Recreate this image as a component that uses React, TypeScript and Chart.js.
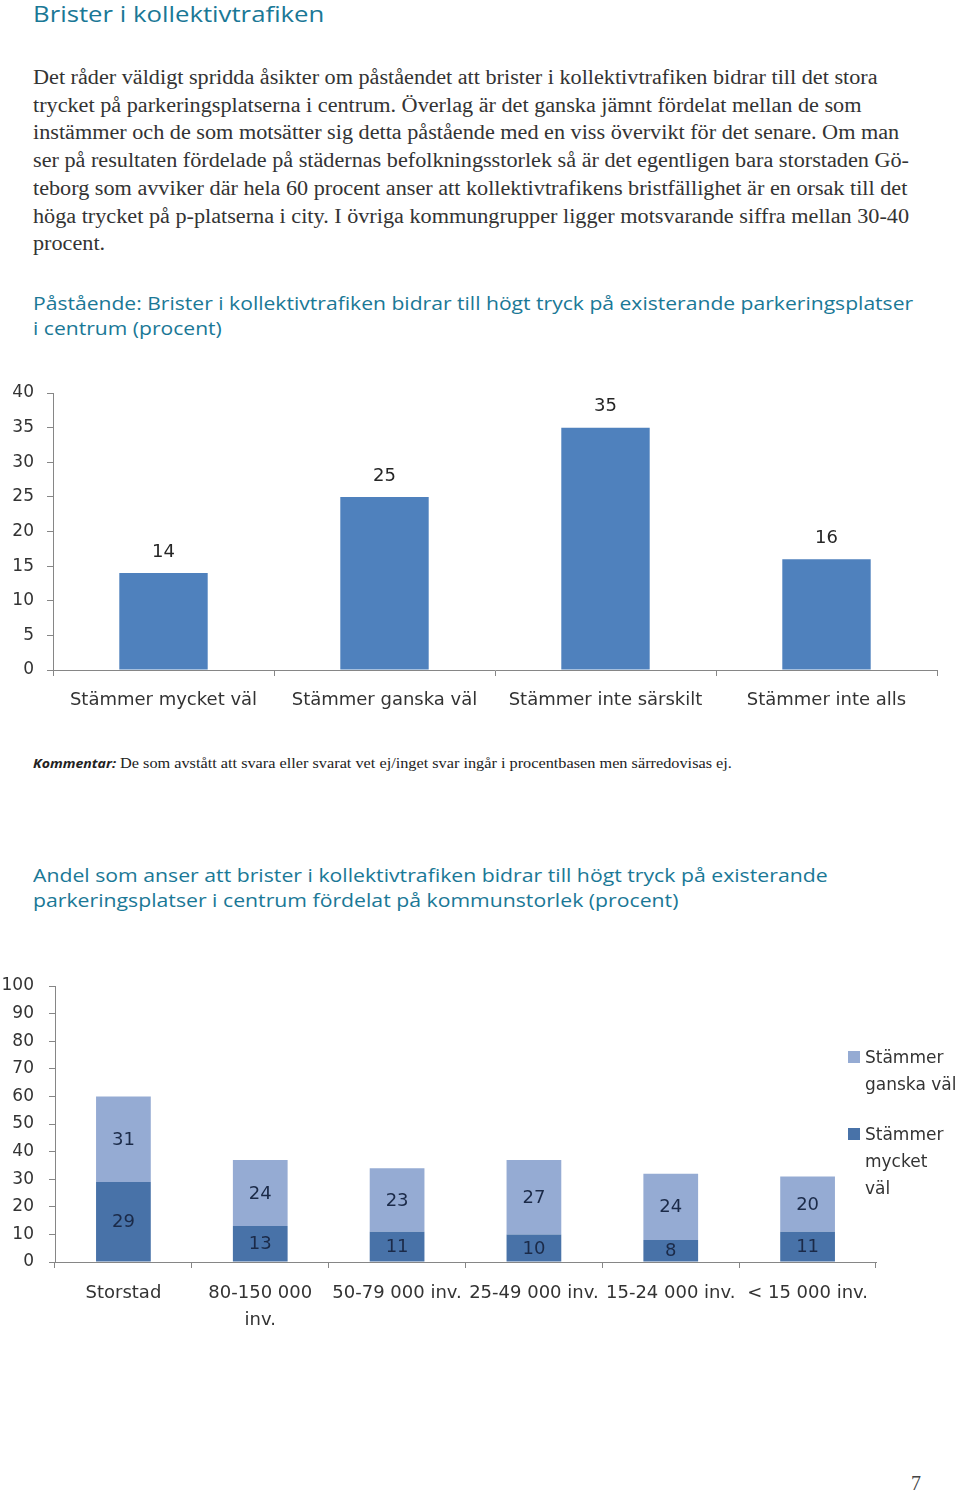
import React, { useEffect, useRef } from "react";
import { Chart, registerables } from "chart.js";

Chart.register(...registerables);

// ---------- Data ----------
const chart1Categories = ["Stämmer mycket väl", "Stämmer ganska väl", "Stämmer inte särskilt", "Stämmer inte alls"];
const chart1Values = [14, 25, 35, 16];
const chart1Ticks = [0, 5, 10, 15, 20, 25, 30, 35, 40];

const chart2Categories: (string | string[])[] = ["Storstad", ["80-150 000", "inv."], "50-79 000 inv.", "25-49 000 inv.", "15-24 000 inv.", "< 15 000 inv."];
const mycketVal = [29, 13, 11, 10, 8, 11];
const ganskaVal = [31, 24, 23, 27, 24, 20];
const chart2Ticks = [0, 10, 20, 30, 40, 50, 60, 70, 80, 90, 100];

const paragraphLines = [
  "Det råder väldigt spridda åsikter om påståendet att brister i kollektivtrafiken bidrar till det stora",
  "trycket på parkeringsplatserna i centrum. Överlag är det ganska jämnt fördelat mellan de som",
  "instämmer och de som motsätter sig detta påstående med en viss övervikt för det senare. Om man",
  "ser på resultaten fördelade på städernas befolkningsstorlek så är det egentligen bara storstaden Gö-",
  "teborg som avviker där hela 60 procent anser att kollektivtrafikens bristfällighet är en orsak till det",
  "höga trycket på p-platserna i city. I övriga kommungrupper ligger motsvarande siffra mellan 30-40",
  "procent.",
];

const TEAL = "#1a7896";
const AXIS = "#868686";
const TICK_TEXT = "#333333";
const TICK_FONT = "DejaVu Sans";

const zeroPad = (s: any) => {
  s.paddingTop = 0;
  s.paddingBottom = 0;
  s.paddingLeft = 0;
  s.paddingRight = 0;
};

const barLabelsAbove = {
  id: "barLabelsAbove",
  afterDatasetsDraw(chart: any) {
    const ctx = chart.ctx;
    const meta = chart.getDatasetMeta(0);
    ctx.save();
    ctx.font = `18px ${TICK_FONT}`;
    ctx.fillStyle = "#262626";
    ctx.textAlign = "center";
    ctx.textBaseline = "middle";
    meta.data.forEach((bar: any, i: number) => {
      const v = chart.data.datasets[0].data[i];
      ctx.fillText(String(v), bar.x, bar.y - 21);
    });
    ctx.restore();
  },
};

const barLabelsCenter = {
  id: "barLabelsCenter",
  afterDatasetsDraw(chart: any) {
    const ctx = chart.ctx;
    ctx.save();
    ctx.font = `18px ${TICK_FONT}`;
    ctx.fillStyle = "#1b2a48";
    ctx.textAlign = "center";
    ctx.textBaseline = "middle";
    chart.data.datasets.forEach((ds: any, di: number) => {
      const meta = chart.getDatasetMeta(di);
      meta.data.forEach((bar: any, i: number) => {
        const cy = (bar.y + bar.base) / 2;
        ctx.fillText(String(ds.data[i]), bar.x, cy + 1);
      });
    });
    ctx.restore();
  },
};

function Chart1() {
  const ref = useRef<HTMLCanvasElement>(null);
  useEffect(() => {
    if (!ref.current) return;
    const chart = new Chart(ref.current, {
      type: "bar",
      data: {
        labels: chart1Categories,
        datasets: [
          {
            data: chart1Values,
            backgroundColor: "#4f81bd",
            barPercentage: 1,
            categoryPercentage: 0.4,
          },
        ],
      },
      options: {
        animation: false,
        responsive: false,
        maintainAspectRatio: false,
        layout: { padding: { left: 0, right: 23, top: 13, bottom: 0 } },
        plugins: { legend: { display: false }, tooltip: { enabled: false } },
        scales: {
          x: {
            grid: { display: true, drawOnChartArea: false, drawTicks: true, tickLength: 6, color: AXIS, offset: true },
            border: { display: true, color: AXIS, width: 1 },
            ticks: { color: TICK_TEXT, font: { family: TICK_FONT, size: 18 }, padding: 14, maxRotation: 0, autoSkip: false },
            afterFit: (s: any) => {
              s.height = 50;
              zeroPad(s);
            },
          },
          y: {
            min: 0,
            max: 40,
            afterBuildTicks: (s: any) => {
              s.ticks = chart1Ticks.map((v) => ({ value: v }));
            },
            grid: { display: true, drawOnChartArea: false, drawTicks: true, tickLength: 6, color: AXIS },
            border: { display: true, color: AXIS, width: 1 },
            ticks: { color: TICK_TEXT, font: { family: TICK_FONT, size: 17 }, padding: 13 },
            afterFit: (s: any) => {
              s.width = 53;
              zeroPad(s);
            },
          },
        },
      },
      plugins: [barLabelsAbove],
    });
    return () => chart.destroy();
  }, []);
  return <canvas ref={ref} width={960} height={340} style={{ position: "absolute", left: 0, top: 380, width: 960, height: 340 }} />;
}

function Chart2() {
  const ref = useRef<HTMLCanvasElement>(null);
  useEffect(() => {
    if (!ref.current) return;
    const chart = new Chart(ref.current, {
      type: "bar",
      data: {
        labels: chart2Categories as any,
        datasets: [
          {
            label: "Stämmer mycket väl",
            data: mycketVal,
            backgroundColor: "#4872a8",
            barPercentage: 1,
            categoryPercentage: 0.4,
          },
          {
            label: "Stämmer ganska väl",
            data: ganskaVal,
            backgroundColor: "#95abd3",
            barPercentage: 1,
            categoryPercentage: 0.4,
          },
        ],
      },
      options: {
        animation: false,
        responsive: false,
        maintainAspectRatio: false,
        layout: { padding: { left: 0, right: 84, top: 16, bottom: 0 } },
        plugins: { legend: { display: false }, tooltip: { enabled: false } },
        scales: {
          x: {
            stacked: true,
            grid: { display: true, drawOnChartArea: false, drawTicks: true, tickLength: 6, color: AXIS, offset: true },
            border: { display: true, color: AXIS, width: 1 },
            ticks: { color: TICK_TEXT, font: { family: TICK_FONT, size: 18, lineHeight: 1.5 }, padding: 12, maxRotation: 0, autoSkip: false },
            afterFit: (s: any) => {
              s.height = 78;
              zeroPad(s);
            },
          },
          y: {
            stacked: true,
            min: 0,
            max: 100,
            afterBuildTicks: (s: any) => {
              s.ticks = chart2Ticks.map((v) => ({ value: v }));
            },
            grid: { display: true, drawOnChartArea: false, drawTicks: true, tickLength: 6, color: AXIS },
            border: { display: true, color: AXIS, width: 1 },
            ticks: { color: TICK_TEXT, font: { family: TICK_FONT, size: 17 }, padding: 15 },
            afterFit: (s: any) => {
              s.width = 55;
              zeroPad(s);
            },
          },
        },
      },
      plugins: [barLabelsCenter],
    });
    return () => chart.destroy();
  }, []);
  return <canvas ref={ref} width={960} height={370} style={{ position: "absolute", left: 0, top: 970, width: 960, height: 370 }} />;
}

const line = (top: number, h: number, sx = 1): React.CSSProperties => ({
  position: "absolute",
  left: 33,
  top: top - h / 2,
  height: h,
  lineHeight: `${h}px`,
  whiteSpace: "nowrap",
  transform: `scaleX(${sx})`,
  transformOrigin: "left center",
});

export default function App() {
  const titleFont = "'Open Sans', sans-serif";
  const serif = "'Liberation Serif', serif";
  const legendText: React.CSSProperties = {
    position: "absolute",
    left: 865,
    fontFamily: TICK_FONT,
    fontSize: 17,
    color: TICK_TEXT,
    lineHeight: "27px",
    height: 27,
    whiteSpace: "nowrap",
  };
  return (
    <div style={{ position: "absolute", left: 0, top: 0, width: 960, height: 1491, background: "#fff", overflow: "hidden" }}>
      <div style={{ ...line(13, 30, 1.17), fontFamily: titleFont, fontSize: 22, color: TEAL }}>Brister i kollektivtrafiken</div>
      {paragraphLines.map((t, i) => (
        <div key={i} style={{ ...line(77 + i * 27.7, 28, 1.11), fontFamily: serif, fontSize: 20, color: "#333" }}>
          {t}
        </div>
      ))}
      <div style={{ ...line(303, 25, 1.11), fontFamily: titleFont, fontSize: 19, color: TEAL }}>
        Påstående: Brister i kollektivtrafiken bidrar till högt tryck på existerande parkeringsplatser
      </div>
      <div style={{ ...line(328, 25, 1.11), fontFamily: titleFont, fontSize: 19, color: TEAL }}>i centrum (procent)</div>
      <Chart1 />
      <div style={{ ...line(763, 20, 1.085), fontSize: 15, color: "#222" }}>
        <span style={{ fontFamily: titleFont, fontWeight: 700, fontStyle: "italic", fontSize: 13 }}>Kommentar:</span>
        <span style={{ fontFamily: serif, fontSize: 15 }}> De som avstått att svara eller svarat vet ej/inget svar ingår i procentbasen men särredovisas ej.</span>
      </div>
      <div style={{ ...line(875, 25, 1.117), fontFamily: titleFont, fontSize: 19, color: TEAL }}>
        Andel som anser att brister i kollektivtrafiken bidrar till högt tryck på existerande
      </div>
      <div style={{ ...line(900, 25, 1.117), fontFamily: titleFont, fontSize: 19, color: TEAL }}>
        parkeringsplatser i centrum fördelat på kommunstorlek (procent)
      </div>
      <Chart2 />
      <div style={{ position: "absolute", left: 848, top: 1051, width: 12, height: 12, background: "#95abd3" }} />
      <div style={{ ...legendText, top: 1057 - 13.5 }}>Stämmer</div>
      <div style={{ ...legendText, top: 1084 - 13.5 }}>ganska väl</div>
      <div style={{ position: "absolute", left: 848, top: 1128, width: 12, height: 12, background: "#4872a8" }} />
      <div style={{ ...legendText, top: 1134 - 13.5 }}>Stämmer</div>
      <div style={{ ...legendText, top: 1161 - 13.5 }}>mycket</div>
      <div style={{ ...legendText, top: 1188 - 13.5 }}>väl</div>
      <div style={{ position: "absolute", left: 911, top: 1470, lineHeight: "26px", fontFamily: serif, fontSize: 20, color: "#444" }}>7</div>
    </div>
  );
}
